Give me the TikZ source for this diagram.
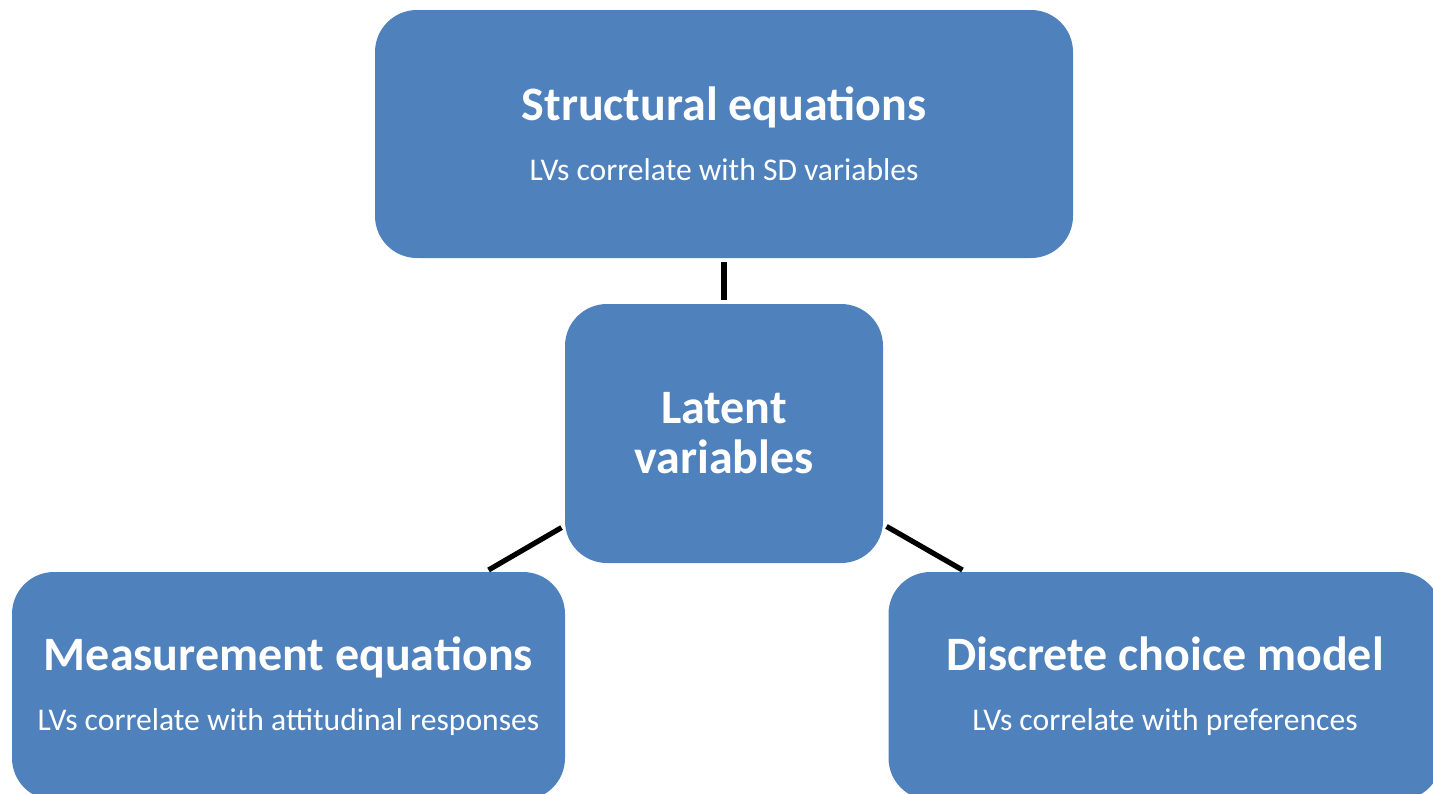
\documentclass[tikz,border=0pt]{standalone}
\usepackage{fontspec}
\setmainfont{Carlito}
\usetikzlibrary{positioning}
\definecolor{boxblue}{HTML}{4F81BD}
\newcommand{\boxtitle}{\fontsize{24}{29}\selectfont\bfseries}
\newcommand{\boxsub}{\fontsize{15.8}{30}\selectfont}
\tikzset{
	box/.style = {fill=boxblue, text=white, rounded corners=21pt, align=center, inner sep=0pt, outer sep=0pt, font=\boxsub},
	link/.style = {line width=2.6pt, black, shorten <=2pt, shorten >=2pt}
}

\begin{document}
\begin{tikzpicture}[x=0.5pt, y=-0.5pt]
		\useasboundingbox (0,0) rectangle (1433,793);
		\clip (0,0) rectangle (1433,793);
		% boxes
		\node[box, minimum width=349pt, minimum height=124pt] (struct) at (724,134)
			{{\boxtitle Structural equations}\\ LVs correlate with SD variables};
		\node[box, minimum width=159pt, minimum height=129.5pt, font=\fontsize{24}{25}\selectfont\bfseries] (latent) at (724,433.5)
			{Latent\\variables};
		\node[box, minimum width=276.5pt, minimum height=114pt] (meas) at (288.5,686)
			{{\boxtitle Measurement equations}\\ LVs correlate with attitudinal responses};
		\node[box, minimum width=276.5pt, minimum height=114pt] (choice) at (1165,686)
			{{\boxtitle Discrete choice model}\\ LVs correlate with preferences};
		% links
		\foreach \n in {struct, meas, choice}
			\draw[link] (latent) -- (\n);
	\end{tikzpicture}
\end{document}
